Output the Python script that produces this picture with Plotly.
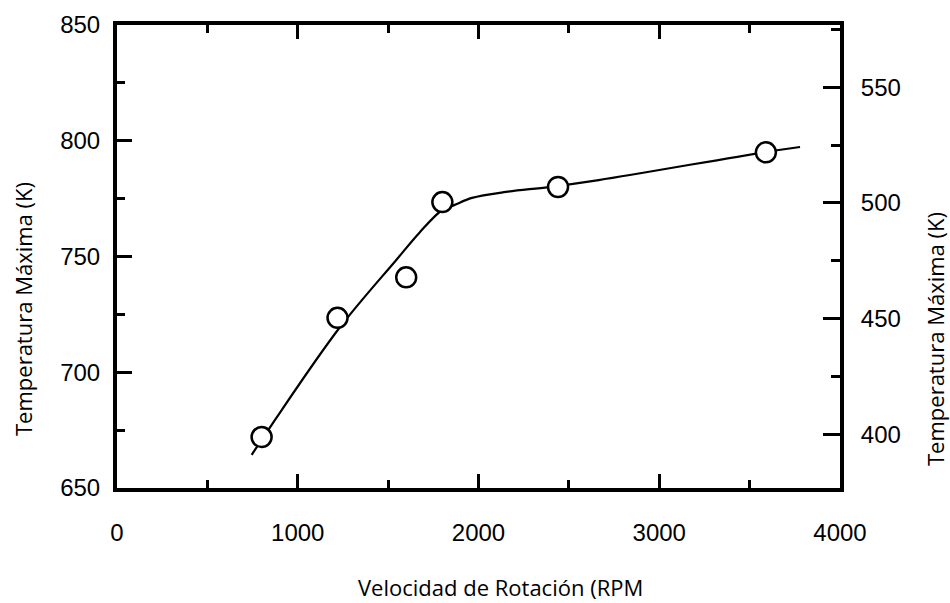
import plotly.graph_objects as go

# Measured points (RPM, K)
rpm_points = [800, 1220, 1600, 1800, 2440, 3590]
temp_points = [672, 723.5, 741, 773.5, 780, 795]

# Fitted curve (RPM, K)
rpm_curve = [745, 855, 1230, 1545, 1672, 1799, 1865, 1964, 2152, 2389, 2665, 3586, 3779]
temp_curve = [664.3, 677.2, 719.1, 748.5, 760.2, 770.1, 772.2, 775.3, 777.9, 780.0, 783.0, 795.1, 797.3]

x_tickvals = [0, 1000, 2000, 3000, 4000]
y_tickvals = [650, 700, 750, 800, 850]
y2_tickvals = [400, 450, 500, 550]

K_RANGE = [650, 850]
OFFSET = 273.15

L, R, T, B = 117, 110, 25, 115
W, H = 950, 603
pw, ph = W - L - R, H - T - B

def px(xp):
    return (xp - L) / pw

def py(yp):
    return (H - B - yp) / ph

fig = go.Figure()
fig.add_trace(go.Scatter(x=rpm_curve, y=temp_curve, mode="lines",
                         line=dict(color="black", width=2.2, shape="spline", smoothing=1.0),
                         hoverinfo="skip", showlegend=False))
fig.add_trace(go.Scatter(x=rpm_points, y=temp_points, mode="markers",
                         marker=dict(symbol="circle", size=20, color="white",
                                     line=dict(color="black", width=2.5)),
                         showlegend=False))
# secondary axis (same data expressed on the right-hand scale), invisible
fig.add_trace(go.Scatter(x=rpm_points, y=[t - OFFSET for t in temp_points], yaxis="y2",
                         mode="markers", marker=dict(opacity=0), hoverinfo="skip",
                         showlegend=False))

tickfont = dict(family="Liberation Sans, Arial", size=24, color="black")
titlefont = dict(family="Open Sans", size=22, color="black")

fig.update_layout(
    width=W, height=H,
    margin=dict(l=L, r=R, t=T, b=B),
    paper_bgcolor="white", plot_bgcolor="white",
    xaxis=dict(range=[0, 4000], tickvals=x_tickvals, ticks="inside", ticklen=14, tickwidth=3,
               tickcolor="black", showline=True, linewidth=4, linecolor="black",
               mirror="ticks", showgrid=False, zeroline=False, tickfont=tickfont,
               ticklabelstandoff=20,
               minor=dict(dtick=500, ticks="inside", ticklen=8, tickwidth=3, tickcolor="black",
                          showgrid=False)),
    yaxis=dict(range=K_RANGE, tickvals=y_tickvals, ticks="inside", ticklen=15, tickwidth=3,
               tickcolor="black", showline=True, linewidth=4, linecolor="black",
               showgrid=False, zeroline=False, tickfont=tickfont, ticklabelstandoff=8,
               minor=dict(dtick=25, ticks="inside", ticklen=8, tickwidth=3, tickcolor="black",
                          showgrid=False)),
    yaxis2=dict(range=[K_RANGE[0] - OFFSET, K_RANGE[1] - OFFSET], tickvals=y2_tickvals,
                overlaying="y", side="right", ticks="inside", ticklen=17, tickwidth=3,
                tickcolor="black", showline=True, linewidth=4, linecolor="black",
                showgrid=False, zeroline=False, tickfont=tickfont, ticklabelstandoff=12,
                minor=dict(tick0=0, dtick=25, ticks="inside", ticklen=9, tickwidth=3,
                           tickcolor="black", showgrid=False)),
    annotations=[
        dict(text="Temperatura Máxima (K)", xref="paper", yref="paper", x=px(23), y=py(309),
             textangle=-90, showarrow=False, font=titlefont, xanchor="center", yanchor="middle"),
        dict(text="Temperatura Máxima (K)", xref="paper", yref="paper", x=px(935), y=py(339),
             textangle=-90, showarrow=False, font=titlefont, xanchor="center", yanchor="middle"),
        dict(text="Velocidad de Rotación (RPM", xref="paper", yref="paper", x=px(500), y=py(587),
             showarrow=False, font=titlefont, xanchor="center", yanchor="middle"),
    ],
)

fig.write_html("out.html", config={"displayModeBar": False},
               post_script="document.body.style.margin='0';document.body.style.padding='0';"
                           "document.body.style.overflow='hidden';")
